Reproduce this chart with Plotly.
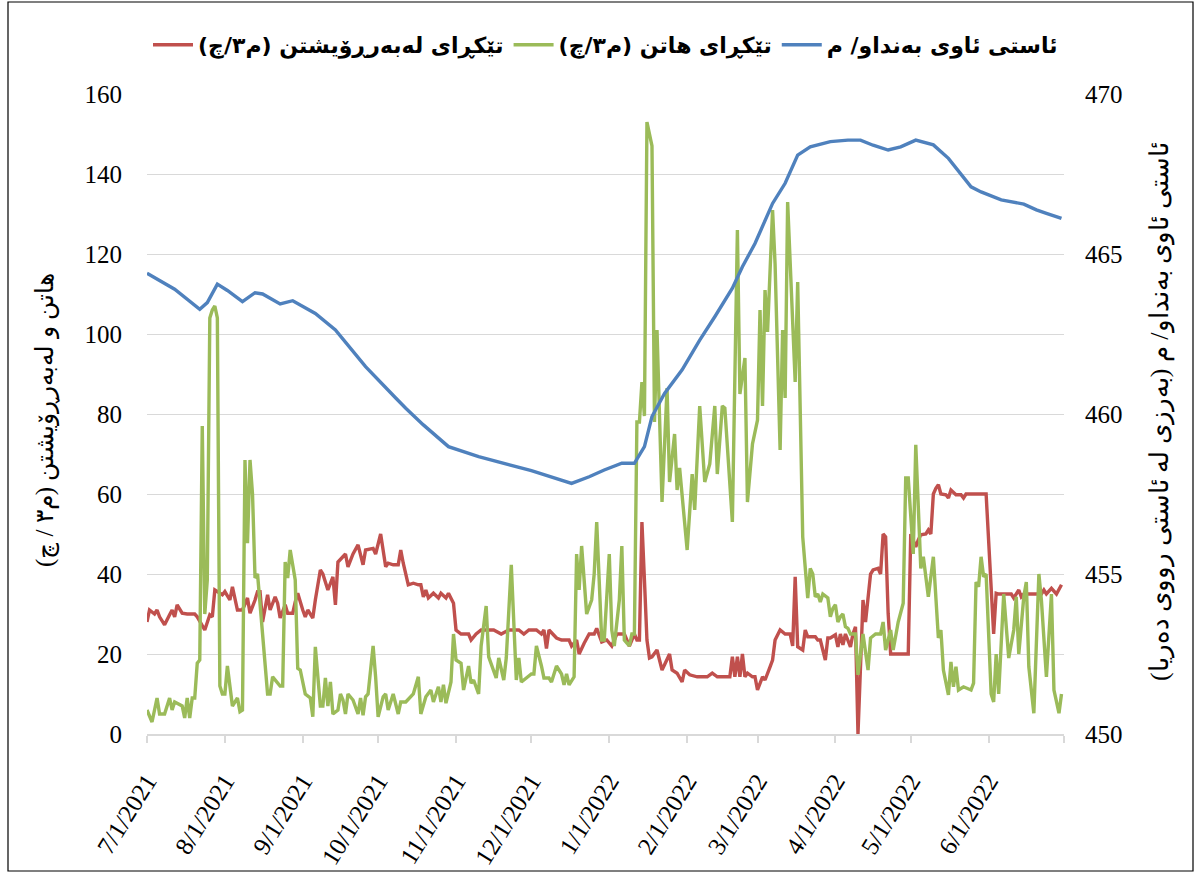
import pandas as pd
import plotly.graph_objects as go

# ---------------- data (day offsets from 2021-07-01) ----------------
start_date = "2021-07-01"

outflow_days = [0, 1, 3, 4, 5, 7, 9, 10, 11, 12, 14, 16, 19, 20, 23, 25, 26, 27, 30, 31, 33, 34, 36, 38, 40, 41, 43, 44, 45, 46,
                48, 49, 51, 52, 53, 55, 56, 58, 59, 60, 62, 63, 64, 66, 67, 69, 70, 72, 74, 75, 76, 79, 80, 82, 84, 86, 87, 90, 91, 93,
                95, 96, 98, 100, 101, 102, 104, 106, 108, 109, 110, 111, 112, 114, 116, 117, 119, 120, 122, 123, 125, 128, 129, 131, 133,
                138, 141, 144, 148, 150, 152, 155, 157, 158, 159, 160, 163, 165, 168, 169, 171, 172, 174, 176, 178, 179, 181, 183, 185,
                187, 190, 192, 194, 195, 196, 197, 198, 199, 200, 201, 203, 204, 205, 206, 208, 209, 211, 213, 214, 216, 219, 223, 225,
                227, 230, 232, 233, 234, 235, 236, 237, 238, 239, 241, 242, 243, 245, 246, 248, 249, 250, 252, 254, 256, 257, 258, 259,
                261, 262, 263, 266, 267, 268, 270, 271, 272, 274, 275, 276, 277, 278, 280, 281, 282, 283, 284, 285, 286, 287, 288, 289,
                291, 292, 293, 294, 295, 296, 303, 304, 305, 306, 307, 308, 310, 311, 312, 313, 314, 315, 316, 318, 319, 320, 322, 324,
                325, 326, 334, 335, 336, 337, 338, 339, 344, 345, 347, 348, 349, 356, 357, 358, 360, 362, 364]
outflow_vals = [28, 31, 30, 31, 29.3, 27.3, 29.8, 31, 29.3, 32.3, 30.2, 30, 30, 29.3, 26, 29.8, 29.3, 36, 34.8, 35.6, 33.5, 36.8, 31, 31, 34, 30.2, 33.5, 35.6, 35.6, 28,
                34.8, 31, 34.3, 32.7, 29, 32.3, 30.2, 30.2, 33, 35.2, 31, 29.3, 31, 29, 33.5, 41, 40, 36, 39.3, 32.3, 43, 45, 41.8, 45, 47.3, 42.3, 46, 46.4, 45, 50,
                41.8, 42.7, 42.3, 42.3, 46, 42.7, 37.3, 37.7, 37.3, 37.3, 34.3, 36, 34, 35.2, 34, 35.2, 34, 35.2, 32.7, 26, 25, 25, 23.5, 25, 26,
                26, 25, 26, 26, 25, 26, 26, 25, 26, 21.4, 26, 24, 23.5, 23.5, 22, 23.5, 20, 22.7, 25, 25, 26.4, 23, 23.5, 22,
                25, 25, 22, 25, 23.5, 23.5, 53, 38.5, 23.5, 19, 19.3, 21, 18.5, 16, 17.3, 20, 16, 15.2, 13, 16, 14.8, 14.3, 14.3, 15.2,
                14.3, 14.3, 14.3, 19.3, 14.3, 19.3, 14.3, 20, 14.3, 15.2, 14.3, 14.3, 11, 14.3, 13.5, 16.8, 18.5, 23.5, 26, 25, 25, 22, 39.3, 21.8,
                21, 26, 24.3, 24.3, 23.5, 23.5, 18.5, 24, 24, 24.8, 21.8, 25, 22.3, 25, 21.8, 25, 26.8, 0, 16.8, 33.5, 28, 34.3, 40, 41,
                41.4, 40, 50, 49.3, 30.2, 20, 20, 50, 48.5, 46.8, 48.5, 49.8, 50, 51, 50, 60, 61.4, 62.3, 60, 59.8, 59, 61, 59.8, 59.8,
                59, 60, 60, 47.7, 34.3, 25, 35.2, 35, 35, 34, 36, 34.3, 35, 35, 36, 35, 36.4, 35, 37.3]

inflow_days = [0, 2, 4, 5, 7, 9, 10, 11, 14, 15, 16, 17, 18, 19, 20, 21, 22, 23, 24, 25, 26, 27, 28, 29, 30, 31, 32, 34, 36, 37,
               38, 39, 40, 41, 42, 43, 44, 48, 49, 50, 53, 54, 55, 56, 57, 59, 60, 61, 63, 65, 66, 67, 69, 70, 71, 72, 73, 74, 76, 77,
               78, 79, 80, 82, 84, 85, 86, 87, 88, 90, 91, 92, 94, 95, 96, 98, 100, 101, 103, 106, 108, 109, 111, 113, 114, 116, 117, 118, 119, 121,
               122, 123, 125, 126, 128, 129, 130, 132, 133, 135, 136, 137, 139, 140, 142, 143, 145, 147, 148, 149, 151, 153, 154, 155, 157, 158, 160, 161, 163, 165,
               166, 167, 168, 170, 171, 172, 173, 175, 177, 178, 179, 181, 182, 184, 185, 186, 188, 189, 190, 192, 193, 194, 195, 196, 197, 198, 199, 200, 201, 202,
               203, 205, 207, 208, 210, 211, 212, 215, 217, 218, 220, 222, 224, 226, 227, 229, 230, 233, 235, 236, 238, 239, 241, 243, 244, 245, 246, 247, 249, 250,
               252, 253, 254, 255, 258, 259, 261, 263, 264, 265, 266, 267, 268, 269, 271, 272, 273, 274, 275, 276, 277, 278, 279, 280, 282, 283, 285, 287, 288, 290,
               292, 293, 294, 296, 297, 299, 301, 302, 303, 305, 306, 308, 309, 311, 313, 315, 316, 317, 319, 320, 321, 322, 323, 325, 328, 329, 330, 331, 332, 333,
               334, 336, 337, 338, 339, 341, 343, 345, 346, 347, 349, 350, 351, 353, 355, 356, 358, 360, 361, 363, 364]
inflow_vals = [6, 3, 9, 5, 5, 9, 6, 8, 7, 4, 9, 4, 9, 9, 17.7, 18.5, 77, 30, 38.5, 104, 106, 107, 104, 12, 10, 10, 17, 7, 9, 5.6,
               6, 68.5, 47.7, 68.5, 60, 39, 40, 10, 10, 14.3, 12, 12, 43, 39, 46, 38.5, 16.4, 16, 10, 9, 4.3, 21.8, 7, 7, 14, 7, 13, 5, 6, 10,
               8.5, 5, 10, 8.5, 5, 9, 4.7, 9.3, 10, 22, 14.3, 4.3, 9.3, 10, 6, 10, 5, 8, 8, 10, 14.3, 5, 9.3, 11, 8, 11.8, 8, 12.3, 7.7, 13,
               25, 18.5, 17.7, 11, 17, 12.7, 13.5, 10, 22, 32, 19.3, 17.7, 14, 19, 13.5, 19, 42.3, 13.5, 19, 13, 14, 15, 15, 22, 17, 14, 14, 13, 17, 15,
               12.3, 15, 12.3, 14.3, 45, 36, 47, 30, 33.5, 40, 53, 23.5, 23.5, 45, 26, 22, 33.5, 47, 23.5, 22, 25, 25, 78, 78, 88, 79.5, 153, 150, 147, 78,
               101, 58, 86.5, 63, 75, 61, 66.5, 46, 65, 56, 82, 63, 67.5, 82, 65, 82, 81.5, 53, 126, 85, 94, 58, 72.5, 78.5, 106, 82, 111, 100.5, 131, 117.5,
               71, 101, 84, 133, 88, 113, 49.3, 34, 41.4, 40, 34.3, 35, 33, 35, 34, 29.3, 31.4, 32.3, 28, 29.3, 30, 26.8, 26.4, 25, 25, 14.8, 25, 16, 24, 25,
               25, 28, 21, 26, 21, 28, 32.7, 64, 64, 45, 72.3, 41.4, 44.3, 34.3, 44.3, 24, 26, 16, 9.8, 18, 11.8, 16.8, 11, 11.8, 11, 12.7, 38, 36.8, 44.3, 39.3,
               40, 10, 8, 20, 10, 35, 19, 26, 34.3, 20, 34.3, 38, 16.8, 5.2, 40, 33.5, 14.3, 35, 11, 5.2, 10]

level_days = [0, 11, 21, 24, 28, 32, 38, 43, 46, 53, 58, 67, 75, 87, 99, 103, 110, 120, 132, 144, 153, 169, 176, 182, 189, 194, 198,
              201, 206, 213, 220, 226, 233, 237, 242, 249, 254, 259, 264, 272, 279, 284, 289, 295, 300, 306, 313, 319, 328, 332, 340,
              349, 354, 358, 364]
level_vals = [464.40, 463.90, 463.27, 463.48, 464.06, 463.86, 463.51, 463.79, 463.75, 463.44, 463.54, 463.14, 462.63, 461.48, 460.50,
              460.18, 459.66, 458.98, 458.67, 458.41, 458.23, 457.83, 458.04, 458.25, 458.46, 458.46, 458.98,
              459.92, 460.64, 461.38, 462.31, 463.04, 463.93, 464.60, 465.33, 466.58, 467.21, 468.09, 468.35, 468.51, 468.56, 468.56,
              468.40, 468.25, 468.35, 468.56, 468.41, 467.99, 467.10, 466.94, 466.69, 466.56, 466.38, 466.27, 466.11]

tick_dates = ["2021-07-01", "2021-08-01", "2021-09-01", "2021-10-01", "2021-11-01", "2021-12-01", "2022-01-01",
              "2022-02-01", "2022-03-01", "2022-04-01", "2022-05-01", "2022-06-01", "2022-07-01"]
tick_labels = ["7/1/2021", "8/1/2021", "9/1/2021", "10/1/2021", "11/1/2021", "12/1/2021", "1/1/2022",
               "2/1/2022", "3/1/2022", "4/1/2022", "5/1/2022", "6/1/2022", ""]

name_out = "تێکڕای لەبەرڕۆیشتن (م٣/چ)"
name_in = "تێکڕای هاتن (م٣/چ)"
name_level = "ئاستی ئاوی بەنداو/ م"
title_left = "هاتن و لەبەرڕۆیشتن (م٣ / چ)"
title_right = "ئاستی ئاوی بەنداو/ م (بەرزی لە ئاستی رووی دەریا)"

# ---------------- figure ----------------
base = pd.Timestamp(start_date)
def to_dates(days):
    return base + pd.to_timedelta(days, unit="D")

W, H = 1201, 873
L, R, T, B = 147, 137, 94, 139
pw, ph = W - L - R, H - T - B

fig = go.Figure()
fig.add_trace(go.Scatter(x=to_dates(outflow_days), y=outflow_vals, name="<b>" + name_out + "</b>",
                         mode="lines", line=dict(color="#C0504D", width=3.4)))
fig.add_trace(go.Scatter(x=to_dates(inflow_days), y=inflow_vals, name="<b>" + name_in + "</b>",
                         mode="lines", line=dict(color="#9BBB59", width=3.4)))
fig.add_trace(go.Scatter(x=to_dates(level_days), y=level_vals, name="<b>" + name_level + "</b>",
                         mode="lines", line=dict(color="#4F81BD", width=3.4), yaxis="y2"))

serif = "Liberation Serif, Times New Roman, serif"
fig.update_layout(
    width=W, height=H,
    margin=dict(l=L, r=R, t=T, b=B, autoexpand=False),
    paper_bgcolor="white", plot_bgcolor="white",
    font=dict(family=serif, color="black"),
    showlegend=True,
    legend=dict(orientation="h", x=0.5, xanchor="center", y=(H - B - 45) / ph,
                yanchor="middle", font=dict(family="DejaVu Sans, Noto Sans, sans-serif", size=22, color="black"),
                itemwidth=40, bgcolor="rgba(0,0,0,0)"),
    xaxis=dict(type="date", range=["2021-07-01", "2022-07-01"], tickvals=tick_dates, ticktext=tick_labels,
               tickangle=-58, tickfont=dict(family=serif, size=25, color="black"),
               showgrid=False, showline=True, linecolor="#D9D9D9", linewidth=1.5,
               ticks="outside", ticklen=7, tickcolor="#D9D9D9", tickwidth=1.5, zeroline=False,
               ticklabelstandoff=14, automargin=False),
    yaxis=dict(range=[0, 160], dtick=20, tickfont=dict(family=serif, size=25, color="black"),
               showgrid=True, gridcolor="#D9D9D9", gridwidth=1.3, zeroline=False, showline=False,
               ticks="", ticklabelstandoff=24, automargin=False),
    yaxis2=dict(range=[450, 470], dtick=5, overlaying="y", side="right",
                tickfont=dict(family=serif, size=25, color="black"),
                showgrid=False, zeroline=False, showline=False, ticks="", ticklabelstandoff=20,
                automargin=False),
    annotations=[
        dict(text=title_left, xref="paper", yref="paper", x=(45 - L) / pw, y=(H - B - 420) / ph,
             textangle=-90, showarrow=False, xanchor="center", yanchor="middle",
             font=dict(family=serif, size=25, color="black")),
        dict(text=title_right, xref="paper", yref="paper", x=(1160 - L) / pw, y=(H - B - 412) / ph,
             textangle=-90, showarrow=False, xanchor="center", yanchor="middle",
             font=dict(family=serif, size=26, color="black")),
    ],
    shapes=[dict(type="rect", xref="paper", yref="paper",
                 x0=(8 - L) / pw, x1=(1193 - L) / pw, y0=(H - B - 871) / ph, y1=(H - B - 2) / ph,
                 line=dict(color="black", width=1.2), fillcolor="rgba(0,0,0,0)", layer="above")],
)

fig.write_html("out.html", config={"displayModeBar": False},
               post_script="document.body.style.margin='0';")
